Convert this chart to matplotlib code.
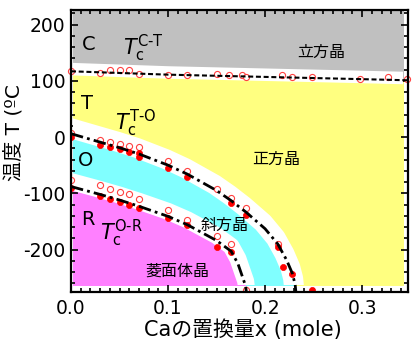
import numpy as np
import matplotlib
matplotlib.use("Agg")
import matplotlib.pyplot as plt
from matplotlib.patches import Rectangle
from matplotlib.transforms import offset_copy

plt.rcParams['axes.unicode_minus'] = False
plt.rcParams['font.family'] = ['DejaVu Sans', 'Noto Sans CJK JP']

# ---- data ----
CT_line_x = [0.0, 0.05, 0.10, 0.15, 0.20, 0.25, 0.30, 0.347]
CT_line_T = [117, 114, 111, 109, 107, 105, 103, 101]

TO_line_x = [0.0, 0.03, 0.05, 0.07, 0.10, 0.12, 0.15, 0.165, 0.18, 0.20, 0.213, 0.222, 0.228, 0.231, 0.232]
TO_line_T = [6, -9, -19, -30, -50, -66, -95, -113, -133, -163, -190, -218, -242, -262, -280]

OR_line_x = [0.0, 0.03, 0.05, 0.07, 0.10, 0.12, 0.15, 0.165, 0.172, 0.177, 0.180, 0.181]
OR_line_T = [-88, -102, -112, -123, -141, -156, -184, -203, -225, -250, -265, -280]

CT_open_x = [0.0, 0.03, 0.04, 0.05, 0.06, 0.07, 0.10, 0.12, 0.15, 0.163, 0.176, 0.18, 0.217, 0.228, 0.248, 0.298, 0.327, 0.346]
CT_open_T = [117, 114, 120, 120, 120, 113, 111, 110, 113, 110, 111, 107, 110, 107, 107, 104, 106, 103]

TO_open_x = [0.0, 0.03, 0.04, 0.05, 0.06, 0.07, 0.10, 0.12, 0.15, 0.165, 0.18, 0.213]
TO_open_T = [7, -6, -9, -12, -16, -18, -42, -61, -93, -108, -126, -191]
TO_fill_x = [0.0, 0.03, 0.04, 0.05, 0.06, 0.07, 0.07, 0.10, 0.12, 0.165, 0.18, 0.213, 0.219, 0.228, 0.248]
TO_fill_T = [1, -14, -18, -22, -27, -29, -35, -55, -71, -118, -139, -195, -231, -244, -272]

OR_open_x = [0.0, 0.03, 0.04, 0.05, 0.06, 0.07, 0.10, 0.12, 0.15, 0.165, 0.18]
OR_open_T = [-76, -86, -93, -97, -101, -111, -130, -148, -176, -191, -272]
OR_fill_x = [0.0, 0.03, 0.04, 0.05, 0.06, 0.07, 0.10, 0.12, 0.15, 0.165]
OR_fill_T = [-91, -105, -111, -116, -120, -126, -144, -157, -195, -204]

x_ticks = [0.0, 0.1, 0.2, 0.3]
x_ticklabels = ['0.0', '0.1', '0.2', '0.3']
y_ticks = [-200, -100, 0, 100, 200]
y_ticklabels = ['-200', '-100', '0', '100', '200']

col_C = '#c0c0c0'
col_T = '#ffff80'
col_O = '#80ffff'
col_R = '#ff80ff'

fig = plt.figure(figsize=(4.2, 3.45), dpi=100)
ax = fig.add_axes([71/420, 1-291.7/345, (407.7-71)/420, (291.7-10)/345])
ax.set_xlim(0, 0.347)
ax.set_ylim(-275, 226)

clip = Rectangle((0.002, -263), 0.342 - 0.002, 225 + 263, transform=ax.transData)

xg = np.linspace(0, 0.347, 2000)
ct = np.interp(xg, CT_line_x, CT_line_T)
to = np.where(xg <= TO_line_x[-1], np.interp(xg, TO_line_x, TO_line_T), -400)
orr = np.where(xg <= OR_line_x[-1], np.interp(xg, OR_line_x, OR_line_T), -400)

fills = [
    ax.fill_between(xg, ct, 400, color=col_C, lw=0, zorder=1),
    ax.fill_between(xg, np.minimum(to, ct), ct, color=col_T, lw=0, zorder=1),
    ax.fill_between(xg, np.minimum(orr, to), to, color=col_O, lw=0, zorder=1),
    ax.fill_between(xg, -400, orr, color=col_R, lw=0, zorder=1),
]
for f in fills:
    f.set_clip_path(clip)

def band(xs, ts, width_px, dx, dy):
    xs = list(xs); ts = list(ts)
    s = (ts[1] - ts[0]) / (xs[1] - xs[0])
    xs = [xs[0] - 0.03] + xs
    ts = [ts[0] - 0.03 * s] + ts
    tr = offset_copy(ax.transData, fig=fig, x=dx, y=dy, units='dots')
    ln, = ax.plot(xs, ts, color='white', lw=width_px * 0.72, solid_capstyle='butt',
                  solid_joinstyle='round', transform=tr, zorder=2)
    ln.set_clip_path(clip)

band(CT_line_x, CT_line_T, 12.5, 0, 2.2)
band(TO_line_x, TO_line_T, 20, -2, 6)
band(OR_line_x, OR_line_T, 17, 0, 5)

ms = 4.4
ax.plot(CT_open_x, CT_open_T, 'o', ms=ms, mfc='white', mec='#ff4040', mew=0.8, zorder=3, clip_on=False)
ax.plot(TO_open_x, TO_open_T, 'o', ms=ms, mfc='white', mec='#ff4040', mew=0.8, zorder=3)
ax.plot(OR_open_x, OR_open_T, 'o', ms=ms, mfc='white', mec='#ff4040', mew=0.8, zorder=3)
ax.plot(TO_fill_x, TO_fill_T, 'o', ms=ms, mfc='#ff0000', mec='#ff0000', mew=0.5, zorder=3)
ax.plot(OR_fill_x, OR_fill_T, 'o', ms=ms, mfc='#ff0000', mec='#ff0000', mew=0.5, zorder=3)

ax.plot(CT_line_x, CT_line_T, color='black', lw=1.5, dashes=(2.4, 1.3), zorder=4)
ax.plot(TO_line_x, TO_line_T, color='black', lw=2.0, dashes=(4.5, 1.5, 1, 1.5), zorder=4)
ax.plot(OR_line_x, OR_line_T, color='black', lw=2.0, dashes=(4.5, 1.5, 1, 1.5), zorder=4)

# texts
ax.text(0.0186, 164, 'C', fontsize=14, ha='center', va='center', zorder=5)
ax.text(0.0165, 59, 'T', fontsize=14, ha='center', va='center', zorder=5)
ax.text(0.0155, -42, 'O', fontsize=14, ha='center', va='center', zorder=5)
ax.text(0.017, -147, 'R', fontsize=14, ha='center', va='center', zorder=5)
ax.text(0.054, 158, r'$T_\mathrm{c}^\mathrm{C‐T}$', fontsize=15, ha='left', va='center', zorder=5)
ax.text(0.045, 25, r'$T_\mathrm{c}^\mathrm{T‐O}$', fontsize=15, ha='left', va='center', zorder=5)
ax.text(0.030, -172, r'$T_\mathrm{c}^\mathrm{O‐R}$', fontsize=15, ha='left', va='center', zorder=5)
ax.text(0.258, 150, '立方晶', fontsize=11.5, ha='center', va='center', zorder=5)
ax.text(0.211, -40, '正方晶', fontsize=11.5, ha='center', va='center', zorder=5)
ax.text(0.158, -157, '斜方晶', fontsize=11.5, ha='center', va='center', zorder=5)
ax.text(0.110, -239, '菱面体晶', fontsize=11.5, ha='center', va='center', zorder=5)

ax.set_xticks(x_ticks)
ax.set_xticklabels(x_ticklabels)
ax.set_yticks(y_ticks)
ax.set_yticklabels(y_ticklabels)
ax.set_xticks(np.arange(0, 0.347, 0.01), minor=True)
ax.set_yticks(np.arange(-260, 226, 20), minor=True)
ax.tick_params(which='both', direction='in', top=True, right=True, width=1.2, labelsize=13.5)
ax.tick_params(which='major', length=5)
ax.tick_params(which='minor', length=3)
ax.tick_params(axis='x', pad=5)
ax.tick_params(axis='y', pad=4)
for sp in ax.spines.values():
    sp.set_linewidth(1.6)
    sp.set_zorder(6)

fig.text(242.5/420, 1-330/345, 'Caの置換量x (mole)', fontsize=15, ha='center', va='center')
fig.text(14/420, 1-133/345, '温度 T (ºC', fontsize=14.5, ha='center', va='center', rotation=90)

fig.savefig('out.png', dpi=100)
